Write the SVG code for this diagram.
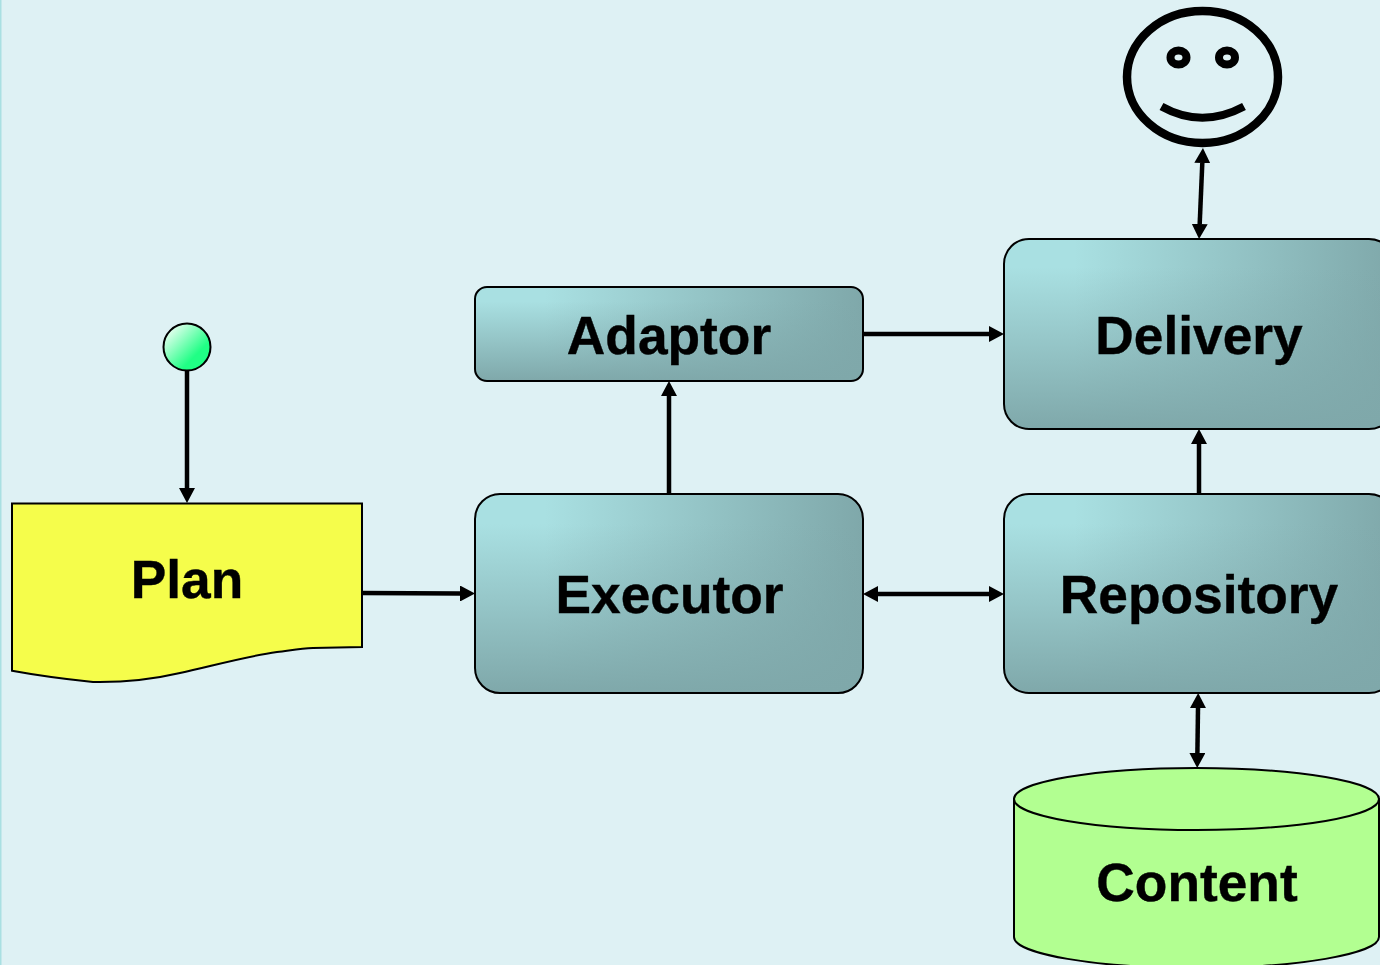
<svg xmlns="http://www.w3.org/2000/svg" width="1380" height="965" viewBox="0 0 1380 965">
<style>
.label{font-family:"Liberation Sans",Arial,sans-serif;font-weight:700;font-size:53.300px;fill:#000;stroke:#000;stroke-width:.4;text-anchor:middle}
.box{stroke:#000;stroke-width:2}
.wire{fill:none;stroke:#000;stroke-width:4.500}
.one{marker-end:url(#head)}
.two{marker-start:url(#head);marker-end:url(#head)}
</style>
<defs>
<linearGradient id="boxH" x1="0" y1="0" x2="1" y2="0"><stop offset="0" stop-color="#A9E0E2"/><stop offset=".18" stop-color="#A9E0E2"/><stop offset="1" stop-color="#7FA8AA"/></linearGradient>
<linearGradient id="boxV" x1="0" y1="0" x2="0" y2="1"><stop offset=".15" stop-color="#7FA8AA" stop-opacity="0"/><stop offset="1" stop-color="#7FA8AA"/></linearGradient>
<linearGradient id="ball" x1="0" y1="0" x2="1" y2="1"><stop offset=".1" stop-color="#F0FFF5"/><stop offset=".68" stop-color="#20FF85"/><stop offset="1" stop-color="#20FF85"/></linearGradient>
<marker id="head" markerUnits="userSpaceOnUse" markerWidth="16" markerHeight="16" refX="0" refY="8" orient="auto-start-reverse"><path d="M0 0L15 8L0 16Z" fill="#000"/></marker>
</defs>
<rect width="1380" height="965" fill="#DEF1F4"/>
<rect width="1.5" height="965" fill="#A9E0E2"/>
<g id="connectors">
<path class="wire one" d="M187 371V488"/>
<path class="wire one" d="M362 593L460 593.500"/>
<path class="wire one" d="M669 494V396"/>
<path class="wire one" d="M863 334H989"/>
<path class="wire two" d="M878 594H989"/>
<path class="wire one" d="M1199 494V444"/>
<path class="wire two" d="M1199.700 224L1202.300 163"/>
<path class="wire two" d="M1197.400 753L1198 708"/>
</g>
<g id="start"><circle cx="187" cy="347" r="23.500" fill="url(#ball)" stroke="#000" stroke-width="2"/></g>
<g id="plan">
<path d="M12 503.500H362V647C345 647.200 330 647.500 313 648C300 648.500 290 650.500 277 652C245 656.500 212 666 180 673C150 680 122 682.500 93 682C65 679 38 675.500 12 670.700Z" fill="#F5FD4B" stroke="#000" stroke-width="2"/>
<text class="label" x="187" y="598">Plan</text>
</g>
<g id="adaptor">
<rect x="475" y="287" width="388" height="94" rx="12" fill="url(#boxH)"/>
<rect x="475" y="287" width="388" height="94" rx="12" fill="url(#boxV)"/>
<rect class="box" x="475" y="287" width="388" height="94" rx="12" fill="none"/>
<text class="label" x="669" y="354">Adaptor</text>
</g>
<g id="executor">
<rect x="475" y="494" width="388" height="199" rx="25" fill="url(#boxH)"/>
<rect x="475" y="494" width="388" height="199" rx="25" fill="url(#boxV)"/>
<rect class="box" x="475" y="494" width="388" height="199" rx="25" fill="none"/>
<text class="label" x="669.500" y="613">Executor</text>
</g>
<g id="delivery">
<rect x="1004" y="239" width="390" height="190" rx="25" fill="url(#boxH)"/>
<rect x="1004" y="239" width="390" height="190" rx="25" fill="url(#boxV)"/>
<rect class="box" x="1004" y="239" width="390" height="190" rx="25" fill="none"/>
<text class="label" x="1199" y="354">Delivery</text>
</g>
<g id="repository">
<rect x="1004" y="494" width="390" height="199" rx="25" fill="url(#boxH)"/>
<rect x="1004" y="494" width="390" height="199" rx="25" fill="url(#boxV)"/>
<rect class="box" x="1004" y="494" width="390" height="199" rx="25" fill="none"/>
<text class="label" x="1199" y="613">Repository</text>
</g>
<g id="content">
<path d="M1014 799V937C1014 954 1096 968 1196.500 968S1379 954 1379 937V799Z" fill="#B2FF91" stroke="#000" stroke-width="2"/>
<ellipse cx="1196.500" cy="799" rx="182.500" ry="31" fill="#B2FF91" stroke="#000" stroke-width="2"/>
<text class="label" x="1197" y="901">Content</text>
</g>
<g id="user" fill="none" stroke="#000">
<ellipse cx="1202.500" cy="77" rx="75.500" ry="66" stroke-width="8.500"/>
<ellipse cx="1178.500" cy="57.500" rx="8" ry="7" stroke-width="8"/>
<ellipse cx="1227" cy="57.500" rx="8" ry="7" stroke-width="8"/>
<path d="M1161.500 106.500Q1202 129 1244 106.500" stroke-width="8"/>
</g>
</svg>
